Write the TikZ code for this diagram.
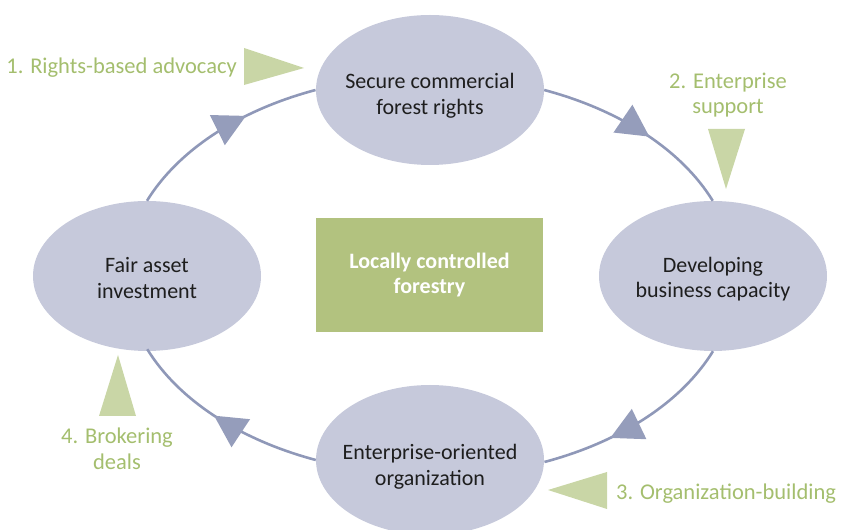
\documentclass[tikz,border=0pt]{standalone}
\usepackage{fontspec}
\setmainfont{Carlito}
\usetikzlibrary{arrows.meta,decorations.markings,shapes.geometric}
\definecolor{ellfill}{HTML}{C6C9DB}
\definecolor{linec}{HTML}{8F98B8}
\definecolor{arrowc}{HTML}{959DBB}
\definecolor{rectc}{HTML}{B2C27F}
\definecolor{trifill}{HTML}{C9D6A6}
\definecolor{greentext}{HTML}{A4BE6E}
\definecolor{inktext}{HTML}{1E1E1E}
\begin{document}
\begin{tikzpicture}[x=1pt,y=1pt,
  stage/.style={ellipse, fill=ellfill, minimum width=228pt, minimum height=150pt,
    inner sep=0pt},
  stagetext/.style={inner sep=0pt, align=center, text=inktext,
    font=\fontsize{22}{25.5}\selectfont},
  loopline/.style={line width=2.6pt, draw=linec},
  flow/.style={decoration={markings, mark=at position #1 with
    {\arrow{Triangle[length=32pt,width=33pt,color=arrowc,fill=arrowc]}}},
    postaction={decorate}},
  lab/.style={inner sep=0pt, text=greentext, align=center,
    font=\fontsize{22.5}{25.5}\selectfont},
  marker/.style={fill=trifill}]
\useasboundingbox (0,0) rectangle (844,530);

% stages
\node[stage] (top) at (430,440) {};
\node[stage] (right) at (713,254) {};
\node[stage] (bottom) at (430,70) {};
\node[stage] (left) at (147,254) {};
\node[stagetext] (toptext) at ([yshift=-6pt]top.center) {Secure commercial\\forest rights};
\node[stagetext] (righttext) at ([yshift=-3pt]right.center) {Developing\\business capacity};
\node[stagetext] (bottomtext) at ([yshift=-7pt]bottom.center) {Enterprise-oriented\\organization};
\node[stagetext] (lefttext) at ([yshift=-2pt]left.center) {Fair asset\\investment};

% centre
\node[fill=rectc, minimum width=227pt, minimum height=114pt, inner sep=0pt,
  align=center, text=white, font=\fontsize{22}{25.5}\selectfont\bfseries]
  (core) at (429.5,255) {Locally controlled\\forestry};

% cycle connectors
\draw[loopline, flow=0.64] (left.north) arc[start angle=158, end angle=112, x radius=305pt, y radius=200.5pt];
\draw[loopline, flow=0.56] (top.east) arc[start angle=68, end angle=22, x radius=305pt, y radius=200.5pt];
\draw[loopline, flow=0.66] (right.south) arc[start angle=-22, end angle=-68, x radius=305pt, y radius=200.5pt];
\draw[loopline, flow=0.54] (bottom.west) arc[start angle=-112, end angle=-158, x radius=305pt, y radius=200.5pt];

% green markers
\fill[marker] (244,482) -- (304,462) -- (244,445) -- cycle;
\fill[marker] (708,401) -- (745,401) -- (726,341) -- cycle;
\fill[marker] (607,58) -- (548,40) -- (607,21) -- cycle;
\fill[marker] (118,175) -- (99,114) -- (136,114) -- cycle;

% labels
\node[lab, anchor=east] (l1) at (237,462) {1. Rights-based advocacy};
\node[lab] (l2) at (728,435) {2. Enterprise\\support};
\node[lab, anchor=west] (l3) at (616,36) {3. Organization-building};
\node[lab] (l4) at (117,81) {4. Brokering\\deals};
\end{tikzpicture}
\end{document}
